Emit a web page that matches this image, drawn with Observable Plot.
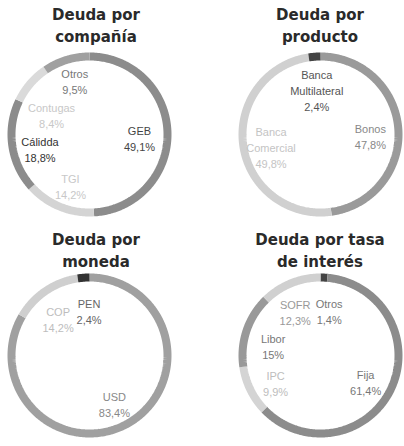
<!DOCTYPE html>
<html><head><meta charset="utf-8">
<script src="https://cdn.jsdelivr.net/npm/d3@7"></script>
<script src="https://cdn.jsdelivr.net/npm/@observablehq/plot@0.6"></script>
<style>
body{margin:0;background:#fff;width:404px;height:446px;overflow:hidden;font-family:"Liberation Sans",Arial,sans-serif}
#grid{display:grid;grid-template-columns:202px 202px;grid-template-rows:221px 225px}
.title{height:50px;box-sizing:border-box;font-family:"DejaVu Sans",sans-serif;font-weight:bold;font-size:15px;line-height:22px;text-align:center;color:#2a2a2a;white-space:nowrap}
.row1 .title{padding-top:4px}
.row2 .title{padding-top:8px}
.left .title{padding-right:10px}
.right .title{padding-left:34px}
svg{display:block}
</style></head><body><div id="grid"></div><script>
// ---- data ----
const companyNames = ["GEB", "TGI", "Cálidda", "Contugas", "Otros"];
const companyValues = [49.1, 14.2, 18.8, 8.4, 9.5];
const productNames = ["Bonos", "Banca Comercial", "Banca Multilateral"];
const productValues = [47.8, 49.8, 2.4];
const currencyNames = ["USD", "COP", "PEN"];
const currencyValues = [83.4, 14.2, 2.4];
const rateNames = ["Otros", "Fija", "IPC", "Libor", "SOFR"];
const rateValues = [1.4, 61.4, 9.9, 15, 12.3];
const titles = [["Deuda por", "compañía"], ["Deuda por", "producto"], ["Deuda por", "moneda"], ["Deuda por tasa", "de interés"]];

// ---- styles ----
const segColors = [
  ["#8c8c8c", "#d4d4d4", "#8c8c8c", "#dadada", "#a0a0a0"],
  ["#9a9a9a", "#d0d0d0", "#444444"],
  ["#a0a0a0", "#cfcfcf", "#333333"],
  ["#444444", "#8c8c8c", "#d4d4d4", "#999999", "#d0d0d0"]
];
const labelColors = [
  ["#444", "#c8c8c8", "#333", "#c8c8c8", "#777"],
  ["#888", "#c4c4c4", "#555"],
  ["#888", "#bdbdbd", "#666"],
  ["#777", "#777", "#bdbdbd", "#777", "#999"]
];
const datasets = [
  [companyNames, companyValues], [productNames, productValues],
  [currencyNames, currencyValues], [rateNames, rateValues]
];

const R = 78, RING = 8, LABEL_R = 50, HALF = 84;
const fmt = v => String(v).replace(".", ",") + "%";

function layout(labels) {
  for (let it = 0; it < 200; it++) {
    let moved = false;
    for (let i = 0; i < labels.length; i++) for (let j = i + 1; j < labels.length; j++) {
      const a = labels[i], b = labels[j];
      const dx = b.x - a.x, dy = b.y - a.y;
      const ox = (a.w + b.w) / 2 + 4 - Math.abs(dx);
      const oy = (a.h + b.h) / 2 + 2 - Math.abs(dy);
      if (ox > 0 && oy > 0) {
        moved = true;
        if (ox < oy) { const s = (dx >= 0 ? 1 : -1) * ox / 2 * 0.5; a.x -= s; b.x += s; }
        else { const s = (dy >= 0 ? 1 : -1) * oy / 2 * 0.5; a.y -= s; b.y += s; }
      }
    }
    if (!moved) break;
  }
}

const grid = document.getElementById("grid");
datasets.forEach(([names, values], k) => {
  const left = k % 2 === 0;
  const cell = document.createElement("div");
  cell.className = (k < 2 ? "row1 " : "row2 ") + (left ? "left" : "right");
  const t = document.createElement("div");
  t.className = "title";
  t.innerHTML = titles[k].join("<br>");
  cell.appendChild(t);

  const rows = names.map((n, i) => ({name: n, value: values[i], color: segColors[k][i], lc: labelColors[k][i]}));
  const arcs = d3.pie().sort(null).value(d => d.value)(rows);
  const pts = [];
  const labels = [];
  arcs.forEach(a => {
    const n = Math.max(2, Math.ceil((a.endAngle - a.startAngle) / (Math.PI / 180)));
    for (let s = 0; s <= n; s++) {
      const ang = a.startAngle + (a.endAngle - a.startAngle) * s / n;
      pts.push({name: a.data.name, color: a.data.color, x: R * Math.sin(ang), y: R * Math.cos(ang)});
    }
    const mid = (a.startAngle + a.endAngle) / 2;
    const lines = [...a.data.name.split(" "), fmt(a.data.value)];
    labels.push({
      text: lines.join("\n"), color: a.data.lc,
      x: LABEL_R * Math.sin(mid), y: LABEL_R * Math.cos(mid),
      w: d3.max(lines, l => l.length) * 6, h: lines.length * 16
    });
  });
  layout(labels);

  const plot = Plot.plot({
    width: 202, height: 168,
    marginLeft: left ? 5 : 34, marginRight: left ? 29 : 0, marginTop: 0, marginBottom: 0,
    x: {domain: [-HALF, HALF], axis: null},
    y: {domain: [-HALF, HALF], axis: null},
    style: {background: "transparent", overflow: "visible"},
    marks: [
      Plot.line(pts, {x: "x", y: "y", z: "name", stroke: "color", strokeWidth: RING, strokeLinecap: "butt", strokeLinejoin: "miter"}),
      Plot.text(labels, {x: "x", y: "y", dy: 5, text: "text", fill: "color", fontSize: 11, lineHeight: 1.45, fontFamily: "Liberation Sans, Arial, sans-serif"})
    ]
  });
  cell.appendChild(plot);
  grid.appendChild(cell);
});
</script></body></html>
